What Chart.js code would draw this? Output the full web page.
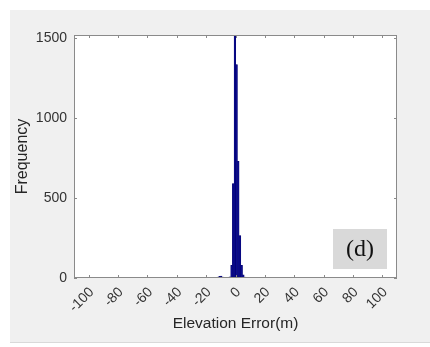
<!DOCTYPE html>
<html>
<head>
<meta charset="utf-8">
<script src="https://cdn.jsdelivr.net/npm/chart.js@4/dist/chart.umd.min.js"></script>
<style>
html,body{margin:0;padding:0;background:#ffffff;}
canvas{display:block;}
</style>
</head>
<body>
<canvas id="c" width="430" height="347"></canvas>
<script>
// Histogram bin centres (m) and counts
const binCenters = [-20.5, -12.0, -10.85, -9.7, -8.55, -5.0, -3.85, -2.7, -1.55, -0.4, 0.75, 1.9, 3.05, 4.2, 5.35, 6.5];
const counts     = [2, 5, 10, 12, 6, 3, 8, 80, 590, 1520, 1335, 730, 265, 80, 20, 5];
const xTicks = [-100, -80, -60, -40, -20, 0, 20, 40, 60, 80, 100];
const yTicks = [0, 500, 1000, 1500];
const xLabel = 'Elevation Error(m)';
const yLabel = 'Frequency';
const panelLabel = '(d)';

const PLOT = {left: 74, right: 397, top: 35, bottom: 278};

const framePlugin = {
  id: 'frame',
  beforeDraw(chart) {
    const ctx = chart.ctx;
    ctx.save();
    ctx.fillStyle = '#ffffff';
    ctx.fillRect(0, 0, chart.width, chart.height);
    ctx.fillStyle = '#f0f0f0';
    ctx.fillRect(10, 10, chart.width - 10, 333);
    ctx.fillStyle = '#d9d9d9';
    ctx.fillRect(10, 342, chart.width - 10, 1);
    const a = chart.chartArea;
    ctx.fillStyle = '#ffffff';
    ctx.fillRect(a.left, a.top, a.right - a.left, a.bottom - a.top);
    ctx.restore();
  },
  afterDraw(chart) {
    const ctx = chart.ctx;
    const a = chart.chartArea;
    const xs = chart.scales.x, ys = chart.scales.y;
    ctx.save();
    ctx.strokeStyle = '#8a8a8a';
    ctx.lineWidth = 1;
    ctx.strokeRect(Math.round(a.left) + 0.5, Math.round(a.top) + 0.5,
                   Math.round(a.right - a.left) - 1, Math.round(a.bottom - a.top) - 1);
    const tl = 3;
    ctx.beginPath();
    xs.ticks.forEach(t => {
      const px = Math.round(xs.getPixelForValue(t.value)) + 0.5;
      ctx.moveTo(px, a.bottom); ctx.lineTo(px, a.bottom - tl);
      ctx.moveTo(px, a.top); ctx.lineTo(px, a.top + tl);
    });
    ys.ticks.forEach(t => {
      const py = Math.round(ys.getPixelForValue(t.value)) + 0.5;
      ctx.moveTo(a.left, py); ctx.lineTo(a.left + tl, py);
      ctx.moveTo(a.right, py); ctx.lineTo(a.right - tl, py);
    });
    ctx.stroke();
    // panel label box
    ctx.fillStyle = '#d9d9d9';
    ctx.fillRect(333, 229, 54, 40);
    ctx.fillStyle = '#111111';
    ctx.font = '24px "Liberation Serif", "Times New Roman", serif';
    ctx.textAlign = 'center';
    ctx.textBaseline = 'middle';
    ctx.fillText(panelLabel, 360, 250);
    ctx.restore();
  }
};

new Chart(document.getElementById('c'), {
  type: 'bar',
  data: {
    datasets: [{
      data: binCenters.map((x, i) => ({x: x, y: counts[i]})),
      backgroundColor: '#0b0b8f',
      borderColor: '#00006a',
      borderWidth: 0.5,
      barPercentage: 1,
      categoryPercentage: 1
    }]
  },
  options: {
    responsive: false,
    animation: false,
    devicePixelRatio: 1,
    layout: {padding: {left: 0, top: PLOT.top, right: 430 - PLOT.right, bottom: 0}},
    plugins: {legend: {display: false}, tooltip: {enabled: false}},
    scales: {
      x: {
        type: 'linear',
        min: -100, max: 100,
        afterBuildTicks(s) { s.ticks = xTicks.map(v => ({value: v})); },
        afterFit(s) { s.height = 347 - PLOT.bottom; },
        grid: {display: false, drawTicks: false},
        border: {display: false},
        ticks: {
          autoSkip: false, minRotation: 45, maxRotation: 45,
          padding: 6,
          labelOffset: 3,
          color: '#333333',
          callback: v => String(v),
          font: {family: '"Liberation Sans", Arial, sans-serif', size: 14}
        },
        title: {
          display: true, text: xLabel, color: '#262626',
          font: {family: '"Liberation Sans", Arial, sans-serif', size: 15.5},
          padding: {top: 0, bottom: 13.5}
        }
      },
      y: {
        type: 'linear',
        min: 0, max: 1520,
        afterBuildTicks(s) { s.ticks = yTicks.map(v => ({value: v})); },
        afterFit(s) { s.width = PLOT.left; },
        grid: {display: false, drawTicks: false},
        border: {display: false},
        ticks: {
          padding: 7,
          color: '#333333',
          callback: v => String(v),
          font: {family: '"Liberation Sans", Arial, sans-serif', size: 14}
        },
        title: {
          display: true, text: yLabel, color: '#262626',
          font: {family: '"Liberation Sans", Arial, sans-serif', size: 16},
          padding: {top: 13, bottom: 0}
        }
      }
    }
  },
  plugins: [framePlugin]
});
</script>
</body>
</html>
